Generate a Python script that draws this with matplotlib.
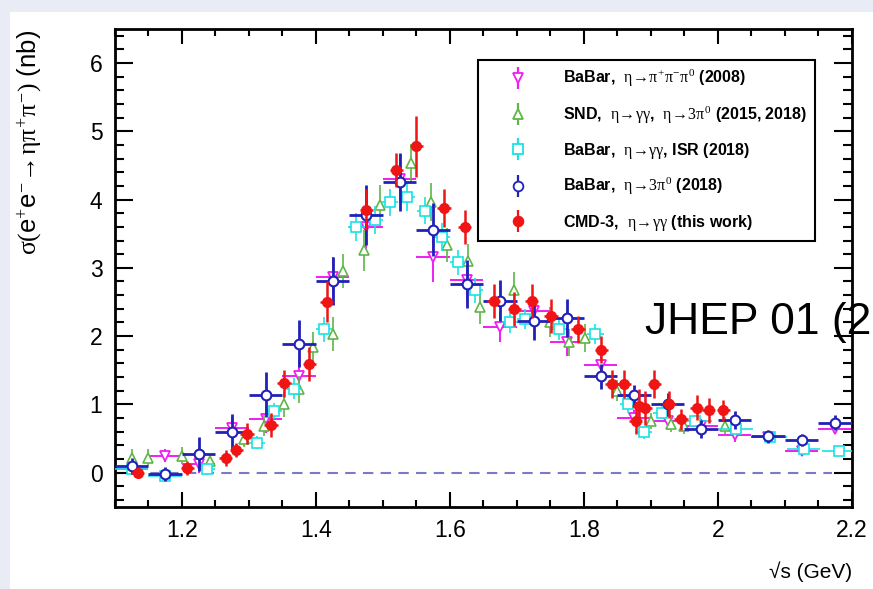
import matplotlib
matplotlib.use('Agg')
import matplotlib.pyplot as plt
from matplotlib.lines import Line2D
from matplotlib.patches import Rectangle
from matplotlib.ticker import MultipleLocator, FixedLocator
from matplotlib.legend_handler import HandlerTuple

plt.rcParams['font.family'] = ['Liberation Sans', 'DejaVu Sans']
plt.rcParams['mathtext.fontset'] = 'custom'
plt.rcParams['mathtext.rm'] = 'Liberation Serif'
plt.rcParams['mathtext.it'] = 'Liberation Serif'
plt.rcParams['mathtext.bf'] = 'Liberation Serif:bold'
plt.rcParams['mathtext.sf'] = 'Liberation Sans'

# BaBar, eta -> pi+ pi- pi0 (2008)
bb08_x = [1.125, 1.175, 1.225, 1.275, 1.325, 1.375, 1.425, 1.475, 1.525, 1.575, 1.625,
          1.675, 1.725, 1.775, 1.825, 1.875, 1.925, 1.975, 2.025, 2.075, 2.125, 2.175]
bb08_y = [0.05, 0.25, 0.12, 0.66, 0.78, 1.42, 2.86, 3.60, 4.30, 3.16, 2.82,
          2.13, 2.37, 1.91, 1.57, 0.80, 0.75, 0.68, 0.55, 0.52, 0.32, 0.64]
bb08_err = [0.08, 0.10, 0.12, 0.15, 0.20, 0.25, 0.30, 0.35, 0.35, 0.37, 0.30,
            0.22, 0.20, 0.20, 0.18, 0.12, 0.12, 0.10, 0.10, 0.08, 0.08, 0.08]

# SND, eta -> gamma gamma, eta -> 3pi0
snd_x = [1.125, 1.150, 1.200, 1.242, 1.292, 1.322, 1.352, 1.375, 1.395, 1.425, 1.440,
         1.472, 1.495, 1.542, 1.572, 1.595, 1.627, 1.645, 1.695, 1.750, 1.777, 1.802,
         1.850, 1.900, 1.930, 1.950, 2.010]
snd_y = [0.22, 0.22, 0.25, 0.17, 0.49, 0.69, 1.00, 1.22, 1.84, 2.03, 2.96,
         3.26, 3.92, 4.53, 3.96, 3.33, 3.10, 2.42, 2.67, 2.20, 1.91, 1.97,
         1.20, 0.76, 0.71, 0.68, 0.69]
snd_err = [0.12, 0.12, 0.12, 0.10, 0.12, 0.15, 0.18, 0.20, 0.22, 0.25, 0.25,
           0.30, 0.30, 0.28, 0.28, 0.25, 0.25, 0.25, 0.27, 0.22, 0.20, 0.20,
           0.15, 0.12, 0.12, 0.12, 0.12]

# BaBar, eta -> gamma gamma, ISR (2018)
isr_x = [1.125, 1.175, 1.237, 1.312, 1.337, 1.367, 1.412, 1.460, 1.488, 1.510, 1.536,
         1.563, 1.588, 1.612, 1.637, 1.690, 1.712, 1.762, 1.817, 1.866, 1.889, 1.916,
         1.966, 2.027, 2.078, 2.128, 2.180]
isr_xerr = [0.025, 0.025, 0.0125, 0.0125, 0.0125, 0.0125, 0.0125, 0.0125, 0.0125, 0.0125, 0.0125,
            0.0125, 0.0125, 0.0125, 0.0125, 0.0125, 0.0125, 0.0125, 0.0125, 0.0125, 0.0125, 0.0125,
            0.025, 0.025, 0.025, 0.025, 0.025]
isr_y = [0.05, -0.05, 0.05, 0.44, 0.90, 1.23, 2.10, 3.60, 3.70, 3.96, 4.04,
         3.84, 3.45, 3.08, 2.67, 2.20, 2.25, 2.10, 2.03, 1.00, 0.59, 0.88,
         0.76, 0.64, 0.52, 0.35, 0.32]
isr_err = [0.08, 0.08, 0.08, 0.10, 0.12, 0.15, 0.18, 0.20, 0.20, 0.20, 0.20,
           0.20, 0.20, 0.18, 0.18, 0.15, 0.15, 0.15, 0.15, 0.12, 0.10, 0.10,
           0.08, 0.06, 0.06, 0.05, 0.05]

# BaBar, eta -> 3pi0 (2018)
bb18_x = [1.125, 1.175, 1.225, 1.275, 1.325, 1.375, 1.425, 1.475, 1.525, 1.575, 1.625,
          1.675, 1.725, 1.775, 1.825, 1.875, 1.925, 1.975, 2.025, 2.075, 2.125, 2.175]
bb18_y = [0.10, -0.02, 0.27, 0.59, 1.14, 1.89, 2.81, 3.77, 4.26, 3.56, 2.76,
          2.52, 2.22, 2.27, 1.41, 1.13, 1.00, 0.64, 0.77, 0.53, 0.48, 0.73]
bb18_err = [0.12, 0.10, 0.25, 0.27, 0.33, 0.35, 0.35, 0.44, 0.43, 0.39, 0.35,
            0.30, 0.27, 0.28, 0.18, 0.15, 0.17, 0.13, 0.13, 0.09, 0.09, 0.11]

# CMD-3, eta -> gamma gamma (this work)
cmd_x = [1.134, 1.208, 1.265, 1.281, 1.297, 1.333, 1.352, 1.390, 1.416, 1.475, 1.520,
         1.550, 1.591, 1.622, 1.665, 1.696, 1.722, 1.751, 1.791, 1.826, 1.842, 1.860,
         1.877, 1.882, 1.891, 1.905, 1.927, 1.945, 1.968, 1.986, 2.008]
cmd_y = [0.00, 0.07, 0.21, 0.33, 0.57, 0.70, 1.31, 1.59, 2.50, 3.85, 4.44,
         4.78, 3.88, 3.60, 2.52, 2.40, 2.52, 2.30, 2.10, 1.80, 1.30, 1.30,
         0.76, 0.98, 0.95, 1.30, 1.00, 0.78, 0.95, 0.91, 0.91]
cmd_err = [0.08, 0.10, 0.12, 0.10, 0.15, 0.18, 0.20, 0.25, 0.30, 0.30, 0.25,
           0.45, 0.28, 0.25, 0.25, 0.25, 0.25, 0.25, 0.20, 0.20, 0.20, 0.20,
           0.20, 0.25, 0.25, 0.20, 0.20, 0.15, 0.18, 0.18, 0.15]

labels = [r'BaBar,  $\eta\!\rightarrow\!\pi^{+}\pi^{-}\pi^{0}$ (2008)',
          r'SND,  $\eta\!\rightarrow\!\gamma\gamma$,  $\eta\!\rightarrow\!3\pi^{0}$ (2015, 2018)',
          r'BaBar,  $\eta\!\rightarrow\!\gamma\gamma$, ISR (2018)',
          r'BaBar,  $\eta\!\rightarrow\!3\pi^{0}$ (2018)',
          r'CMD-3,  $\eta\!\rightarrow\!\gamma\gamma$ (this work)']

c_mag, c_grn, c_cyan, c_blue, c_red = '#f01ef0', '#5fb548', '#19e3e3', '#2121b8', '#f01414'

fig = plt.figure(figsize=(8.73, 5.89), dpi=100, facecolor='#e9ecf5')
fig.patches.append(Rectangle((10 / 873, 0), 1, 1 - 12 / 589, transform=fig.transFigure,
                             facecolor='white', edgecolor='none', zorder=-5))
ax = fig.add_axes([0.1317, 0.1397, 0.8442, 0.8111])
ax.set_facecolor('white')

ax.plot([1.1, 2.17], [0, 0], ls=(0, (5, 3.5)), color='#7a7ac6', lw=1.5, zorder=1)

ax.errorbar(bb08_x, bb08_y, xerr=0.025, yerr=bb08_err, fmt='v', ms=7, mfc='white',
            mec=c_mag, color=c_mag, elinewidth=1.4, mew=1.3, capsize=0, zorder=2)
ax.errorbar(snd_x, snd_y, yerr=snd_err, fmt='^', ms=7, mfc='white',
            mec=c_grn, color=c_grn, elinewidth=1.2, mew=1.2, capsize=0, zorder=3)
ax.errorbar(isr_x, isr_y, xerr=isr_xerr, yerr=isr_err, fmt='s', ms=6.5, mfc='white',
            mec=c_cyan, color=c_cyan, elinewidth=1.2, mew=1.2, capsize=0, zorder=4)
ax.errorbar(bb18_x, bb18_y, xerr=0.025, yerr=bb18_err, fmt='o', ms=7, mfc='white',
            mec=c_blue, color=c_blue, elinewidth=2.0, mew=1.5, capsize=0, zorder=5)
ax.errorbar(cmd_x, cmd_y, xerr=0.01, yerr=cmd_err, fmt='o', ms=7,
            mec=c_red, color=c_red, elinewidth=1.8, mew=1, capsize=0, zorder=6)

ax.set_xlim(1.1, 2.2)
ax.set_ylim(-0.5, 6.5)
ax.xaxis.set_major_locator(FixedLocator([1.2, 1.4, 1.6, 1.8, 2.0, 2.2]))
ax.set_xticklabels(['1.2', '1.4', '1.6', '1.8', '2', '2.2'])
ax.xaxis.set_minor_locator(MultipleLocator(0.05))
ax.set_yticks(range(7))
ax.yaxis.set_minor_locator(MultipleLocator(0.2))
ax.tick_params(which='both', direction='in', top=True, right=True, width=1.5,
               labelsize=16.5, pad=9)
ax.tick_params(axis='x', which='major', length=11)
ax.tick_params(axis='x', which='minor', length=5)
ax.tick_params(axis='y', which='major', length=13)
ax.tick_params(axis='y', which='minor', length=6.5)
for sp in ax.spines.values():
    sp.set_linewidth(2)

# legend entries: marker sitting on a vertical error bar
handles = []
for c, m, fill, ms in [(c_mag, 'v', 'white', 7), (c_grn, '^', 'white', 7),
                       (c_cyan, 's', 'white', 6.5), (c_blue, 'o', 'white', 7),
                       (c_red, 'o', c_red, 7)]:
    bar = Line2D([0], [0], marker='|', ms=16, mew=1.6, color=c, ls='none')
    mk = Line2D([0], [0], marker=m, ms=ms, mfc=fill, mec=c, mew=1.3, ls='none')
    handles.append((bar, mk))
leg = ax.legend(handles, labels, handler_map={tuple: HandlerTuple(ndivide=1, pad=0)},
                loc='upper left', bbox_to_anchor=(0.4925, 0.935),
                prop={'weight': 'bold', 'size': 11.5},
                frameon=True, fancybox=False, edgecolor='black', framealpha=1,
                labelspacing=0.95, handlelength=4.0, handletextpad=0.8, borderpad=0.5,
                borderaxespad=0)
leg.get_frame().set_linewidth(1.5)
leg.set_zorder(10)

fig.text(30 / 873, 1 - 30 / 589,
         r'$\sigma(\mathsf{e}^{+}\mathsf{e}^{-}\!\rightarrow\!\eta\pi^{+}\pi^{-})$ (nb)',
         rotation=90, ha='center', va='top', fontsize=18.5)
fig.text(852 / 873, 1 - 572 / 589, '√s (GeV)', ha='right', va='center', fontsize=15)
fig.text(645 / 873, 1 - 322 / 589, 'JHEP 01 (2019)', ha='left', va='center', fontsize=32)

fig.savefig('out.png', dpi=100, facecolor=fig.get_facecolor())
